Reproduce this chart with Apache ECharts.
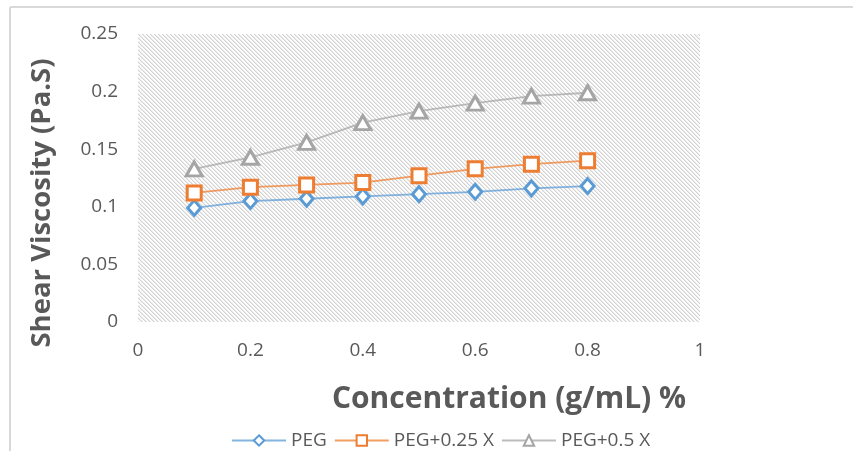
<!DOCTYPE html>
<html>
<head>
<meta charset="utf-8">
<script src="https://cdn.jsdelivr.net/npm/echarts@6/dist/echarts.min.js"></script>
<style>
html,body{margin:0;padding:0;background:#fff;}
#chart{width:853px;height:451px;}
</style>
</head>
<body>
<div id="chart"></div>
<script>
// ---- data ----
const concentration = [0.1, 0.2, 0.3, 0.4, 0.5, 0.6, 0.7, 0.8];
const pegValues = [0.099, 0.105, 0.107, 0.109, 0.111, 0.113, 0.116, 0.118];
const peg025Values = [0.112, 0.117, 0.119, 0.121, 0.127, 0.133, 0.137, 0.140];
const peg05Values = [0.133, 0.143, 0.156, 0.173, 0.183, 0.190, 0.196, 0.199];
const seriesNames = ['PEG', 'PEG+0.25 X', 'PEG+0.5 X'];
const yAxisTitle = 'Shear Viscosity (Pa.S)';
const xAxisTitle = 'Concentration (g/mL) %';

// hatch pattern for plot area
function makeHatch() {
  const n = 4;
  const c = document.createElement('canvas');
  c.width = n; c.height = n;
  const ctx = c.getContext('2d');
  const img = ctx.createImageData(n, n);
  for (let y = 0; y < n; y++) {
    for (let x = 0; x < n; x++) {
      const d = ((x - y) % n + n) % n;
      let v = 253;
      if (d === 0) v = 210;
      else if (d === 1) v = 234;
      const i = (y * n + x) * 4;
      img.data[i] = v; img.data[i+1] = v; img.data[i+2] = v; img.data[i+3] = 255;
    }
  }
  ctx.putImageData(img, 0, 0);
  return c;
}

function pairs(xs, ys) { return xs.map((x, i) => [x, ys[i]]); }

const colors = ['#5b9bd5', '#ed7d31', '#a5a5a5'];
const symbols = ['diamond', 'rect', 'triangle'];
const symbolSizes = [[13, 15], 14, [16, 14]];
const dataSets = [pegValues, peg025Values, peg05Values];

const chart = echarts.init(document.getElementById('chart'), null, {renderer: 'canvas'});
const FONT = '"Open Sans", sans-serif';

chart.setOption({
  animation: false,
  grid: {
    left: 138, right: 153, top: 34, bottom: 129,
    show: true,
    backgroundColor: {image: makeHatch(), repeat: 'repeat'},
    borderWidth: 0
  },
  legend: {
    top: 426, left: 226,
    itemWidth: 54, itemHeight: 13, itemGap: 7,
    textStyle: {fontFamily: FONT, fontSize: 19, color: '#595959'},
    data: seriesNames
  },
  xAxis: {
    type: 'value', min: 0, max: 1, interval: 0.2,
    axisLine: {show: false}, axisTick: {show: false}, splitLine: {show: false},
    axisLabel: {fontFamily: FONT, fontSize: 19, color: '#595959', margin: 19},
    name: xAxisTitle, nameLocation: 'middle', nameGap: 62,
    nameTextStyle: {fontFamily: FONT, fontSize: 30, fontWeight: 'bold', color: '#595959', padding: [0, 0, 0, 180]}
  },
  yAxis: {
    type: 'value', min: 0, max: 0.25, interval: 0.05,
    axisLine: {show: false}, axisTick: {show: false}, splitLine: {show: false},
    axisLabel: {fontFamily: FONT, fontSize: 19, color: '#595959', margin: 20},
    name: yAxisTitle, nameLocation: 'middle', nameGap: 82,
    nameTextStyle: {fontFamily: FONT, fontSize: 27.5, fontWeight: 'bold', color: '#595959', padding: [0, 50, 0, 0]}
  },
  graphic: [
    {type: 'line', shape: {x1: 10, y1: 7, x2: 853, y2: 7}, style: {stroke: '#d9d9d9', lineWidth: 2}, silent: true},
    {type: 'line', shape: {x1: 10, y1: 7, x2: 10, y2: 451}, style: {stroke: '#d9d9d9', lineWidth: 2}, silent: true}
  ],
  series: dataSets.map((vals, i) => ({
    name: seriesNames[i],
    type: 'line',
    data: pairs(concentration, vals),
    symbol: symbols[i],
    symbolSize: symbolSizes[i],
    showAllSymbol: true,
    lineStyle: {color: colors[i], width: 1.8, opacity: 0.75},
    itemStyle: {color: '#ffffff', borderColor: colors[i], borderWidth: 3},
    emphasis: {disabled: true}
  }))
});
</script>
</body>
</html>
